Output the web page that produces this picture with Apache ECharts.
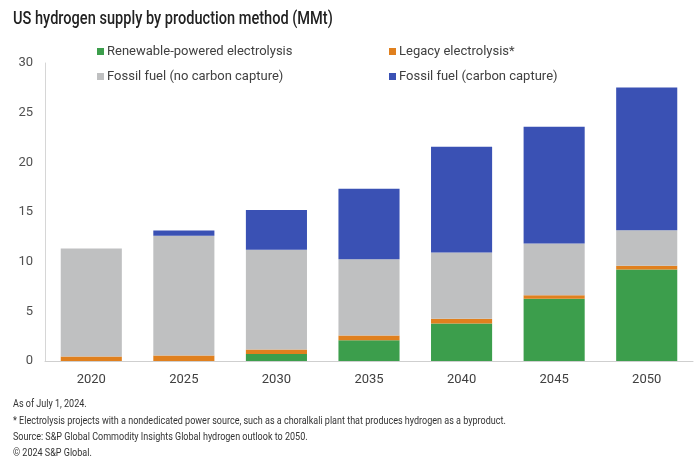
<!DOCTYPE html>
<html>
<head>
<meta charset="utf-8">
<style>
	html, body { margin: 0; padding: 0; background: #fff; }
	#chart { width: 696px; height: 467px; }
</style>
</head>
<body>
<div id="chart"></div>
<script src="https://cdn.jsdelivr.net/npm/echarts@6/dist/echarts.min.js"></script>
<script type="text/javascript">
	var years = ['2020', '2025', '2030', '2035', '2040', '2045', '2050'];
	var renewable = [0, 0, 0.7, 2.1, 3.78, 6.26, 9.21];
	var legacy = [0.45, 0.55, 0.46, 0.47, 0.47, 0.37, 0.38];
	var fossilNoCC = [10.88, 12.05, 10.04, 7.68, 6.68, 5.2, 3.58];
	var fossilCC = [0, 0.54, 4.0, 7.09, 10.64, 11.75, 14.37];
	var notes = [
		'As of July 1, 2024.',
		'* Electrolysis projects with a nondedicated power source, such as a choralkali plant that produces hydrogen as a byproduct.',
		'Source: S&P Global Commodity Insights Global hydrogen outlook to 2050.',
		'\u00a9 2024 S&P Global.'
	];

	var names = ['Renewable-powered electrolysis', 'Legacy electrolysis*',
		'Fossil fuel (no carbon capture)', 'Fossil fuel (carbon capture)'];
	var colors = ['#3c9e4c', '#e0801e', '#bfc0c1', '#3a51b4'];
	var font = 'Roboto, sans-serif';

	var legendStyle = {
		orient: 'vertical',
		icon: 'rect',
		itemWidth: 7,
		itemHeight: 7,
		itemGap: 12,
		top: 40,
		textStyle: {color: '#404040', fontSize: 13, fontFamily: font, padding: [0, 0, 0, -2]}
	};

	// title and notes are drawn narrowed, the source uses a condensed face
	var texts = [{
		type: 'text',
		x: 13,
		y: 19,
		scaleX: 0.81,
		style: {
			text: 'US hydrogen supply by production method (MMt)',
			fill: '#222', fontSize: 18, fontWeight: 500, fontFamily: font,
			textVerticalAlign: 'middle'
		}
	}];
	var noteY = [404, 421, 437, 453];
	notes.forEach(function (t, i) {
		texts.push({
			type: 'text',
			x: 13,
			y: noteY[i],
			scaleX: 0.82,
			style: {text: t, fill: '#333', fontSize: 11, fontFamily: font, textVerticalAlign: 'middle'}
		});
	});

	var option = {
		animation: false,
		color: colors,
		legend: [
			Object.assign({left: 92, data: [names[0], names[2]]}, legendStyle),
			Object.assign({left: 384, data: [names[1], names[3]]}, legendStyle)
		],
		grid: {left: 45, right: 3, top: 63, bottom: 106},
		xAxis: {
			type: 'category',
			data: years,
			axisLine: {lineStyle: {color: '#cfcfcf'}},
			axisTick: {show: false},
			axisLabel: {color: '#404040', fontSize: 13, fontFamily: font, margin: 12}
		},
		yAxis: {
			type: 'value',
			min: 0,
			max: 30,
			interval: 5,
			axisLine: {show: true, lineStyle: {color: '#d6d6d6'}},
			axisTick: {show: false},
			splitLine: {show: false},
			axisLabel: {color: '#505050', fontSize: 13, fontFamily: font, margin: 12}
		},
		graphic: texts,
		series: [renewable, legacy, fossilNoCC, fossilCC].map(function (d, i) {
			return {
				name: names[i],
				type: 'bar',
				stack: 'total',
				barCategoryGap: '34%',
				data: d
			};
		})
	};

	var myChart = echarts.init(document.getElementById('chart'));
	myChart.setOption(option);
</script>
</body>
</html>
